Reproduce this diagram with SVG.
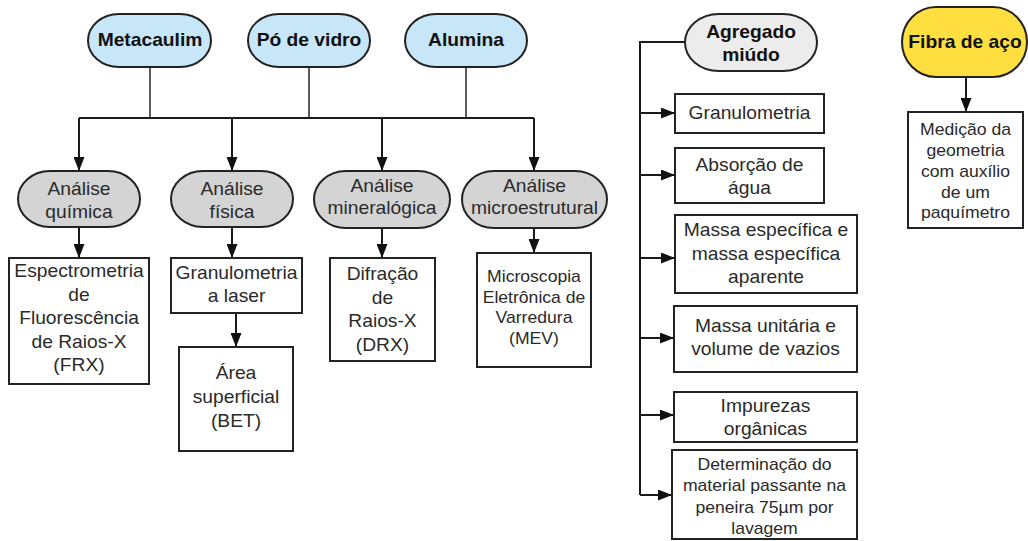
<svg xmlns="http://www.w3.org/2000/svg" width="1028" height="541" viewBox="0 0 1028 541">
  <defs>
    <marker id="arrow" markerUnits="userSpaceOnUse" markerWidth="14" markerHeight="11" refX="14" refY="5.5" orient="auto">
      <path d="M0,0 L14,5.5 L0,11 z" fill="#111"/>
    </marker>
    <style>
      .bg { fill: #ffffff; }
      .pill { stroke: #222; stroke-width: 2; }
      .blue { fill: #c7e6f7; }
      .grey { fill: #d4d4d4; }
      .light { fill: #ececec; }
      .yellow { fill: #ffdf3f; }
      .box { fill: #ffffff; stroke: #222; stroke-width: 2; }
      .wire { fill: none; stroke: #1a1a1a; stroke-width: 2; }
      .feed { fill: none; stroke: #333; stroke-width: 1.6; }
      .arr { fill: none; stroke: #1a1a1a; stroke-width: 2; marker-end: url(#arrow); }
      text { font-family: "Liberation Sans", Arial, sans-serif; text-anchor: middle; }
      .t { font-size: 17.5px; fill: #2a2a2a; }
      .s { font-size: 16px; fill: #2a2a2a; }
      .b { font-size: 17.5px; font-weight: bold; fill: #111; }
    </style>
  </defs>

  <rect class="bg" x="0" y="0" width="1028" height="541"/>

  <!-- connectors -->
  <g id="connectors">
    <path class="feed" d="M150,67 V118 M309,67 V118 M466,67 V118"/>
    <path class="wire" d="M79,118 H534"/>
    <path class="arr" d="M79,118 V171"/>
    <path class="arr" d="M232,118 V171"/>
    <path class="arr" d="M382,118 V171"/>
    <path class="arr" d="M534,118 V171"/>

    <path class="arr" d="M79,227 V258"/>
    <path class="arr" d="M232,227 V258"/>
    <path class="arr" d="M382,228 V258"/>
    <path class="arr" d="M534,228 V253"/>
    <path class="arr" d="M236,313 V347"/>

    <path class="wire" d="M685,42 H640 V495"/>
    <path class="arr" d="M640,113 H675"/>
    <path class="arr" d="M640,175 H675"/>
    <path class="arr" d="M640,258 H675"/>
    <path class="arr" d="M640,338 H674"/>
    <path class="arr" d="M640,415 H674"/>
    <path class="arr" d="M640,495 H672"/>

    <path class="arr" d="M966,77 V112"/>
  </g>

  <!-- materials -->
  <g id="metacaulim">
    <rect class="pill blue" x="88" y="14" width="123" height="53" rx="31" ry="26.5"/>
    <g transform="translate(150,0) scale(1.1,1)"><text class="b" x="0" y="46">Metacaulim</text></g>
  </g>
  <g id="po-de-vidro">
    <rect class="pill blue" x="248" y="14" width="122" height="53" rx="31" ry="26.5"/>
    <g transform="translate(309,0) scale(1.1,1)"><text class="b" x="0" y="46">Pó de vidro</text></g>
  </g>
  <g id="alumina">
    <rect class="pill blue" x="405" y="14" width="122" height="53" rx="31" ry="26.5"/>
    <g transform="translate(466,0) scale(1.1,1)"><text class="b" x="0" y="46">Alumina</text></g>
  </g>

  <!-- analyses -->
  <g id="analise-quimica">
    <rect class="pill grey" x="18" y="171" width="122" height="56" rx="32" ry="28"/>
    <g transform="translate(79,0) scale(1.1,1)">
      <text class="t" x="0" y="195.5">Análise</text>
      <text class="t" x="0" y="218.5">química</text>
    </g>
  </g>
  <g id="analise-fisica">
    <rect class="pill grey" x="171" y="171" width="122" height="56" rx="32" ry="28"/>
    <g transform="translate(232,0) scale(1.1,1)">
      <text class="t" x="0" y="195.5">Análise</text>
      <text class="t" x="0" y="218.5">física</text>
    </g>
  </g>
  <g id="analise-mineralogica">
    <rect class="pill grey" x="314" y="171" width="136" height="57" rx="32" ry="28.5"/>
    <g transform="translate(382,0) scale(1.1,1)">
      <text class="t" x="0" y="192.5">Análise</text>
      <text class="t" x="0" y="214.5">mineralógica</text>
    </g>
  </g>
  <g id="analise-microestrutural">
    <rect class="pill grey" x="462" y="171" width="145" height="57" rx="32" ry="28.5"/>
    <g transform="translate(534.5,0) scale(1.1,1)">
      <text class="t" x="0" y="192.5">Análise</text>
      <text class="t" x="0" y="214.5">microestrutural</text>
    </g>
  </g>

  <!-- methods -->
  <g id="frx">
    <rect class="box" x="9" y="258" width="140" height="126"/>
    <g transform="translate(79,0) scale(1.1,1)">
      <text class="t" x="0" y="277.5">Espectrometria</text>
      <text class="t" x="0" y="301">de</text>
      <text class="t" x="0" y="324.5">Fluorescência</text>
      <text class="t" x="0" y="348">de Raios-X</text>
      <text class="t" x="0" y="371.5">(FRX)</text>
    </g>
  </g>
  <g id="granulometria-laser">
    <rect class="box" x="171" y="258" width="131" height="55"/>
    <g transform="translate(236.5,0) scale(1.1,1)">
      <text class="t" x="0" y="279">Granulometria</text>
      <text class="t" x="0" y="302.5">a laser</text>
    </g>
  </g>
  <g id="bet">
    <rect class="box" x="179" y="347" width="114" height="104"/>
    <g transform="translate(236,0) scale(1.1,1)">
      <text class="t" x="0" y="379.5">Área</text>
      <text class="t" x="0" y="403.5">superficial</text>
      <text class="t" x="0" y="427.5">(BET)</text>
    </g>
  </g>
  <g id="drx">
    <rect class="box" x="330" y="258" width="105" height="103"/>
    <g transform="translate(382.5,0) scale(1.1,1)">
      <text class="t" x="0" y="280.5">Difração</text>
      <text class="t" x="0" y="304">de</text>
      <text class="t" x="0" y="327.5">Raios-X</text>
      <text class="t" x="0" y="351">(DRX)</text>
    </g>
  </g>
  <g id="mev">
    <rect class="box" x="477" y="253" width="114" height="114"/>
    <g transform="translate(534,0) scale(1.1,1)">
      <text class="s" x="0" y="282.5">Microscopia</text>
      <text class="s" x="0" y="303">Eletrônica de</text>
      <text class="s" x="0" y="323.5">Varredura</text>
      <text class="s" x="0" y="344">(MEV)</text>
    </g>
  </g>

  <!-- fine aggregate -->
  <g id="agregado-miudo">
    <rect class="pill light" x="685" y="14" width="132" height="57" rx="34" ry="28.5"/>
    <g transform="translate(751,0) scale(1.1,1)">
      <text class="b" x="0" y="38">Agregado</text>
      <text class="b" x="0" y="61">miúdo</text>
    </g>
  </g>
  <g id="granulometria">
    <rect class="box" x="675" y="94" width="149" height="39"/>
    <g transform="translate(749.5,0) scale(1.1,1)"><text class="t" x="0" y="119.5">Granulometria</text></g>
  </g>
  <g id="absorcao">
    <rect class="box" x="675" y="148" width="149" height="55"/>
    <g transform="translate(749.5,0) scale(1.1,1)">
      <text class="t" x="0" y="171">Absorção de</text>
      <text class="t" x="0" y="194">água</text>
    </g>
  </g>
  <g id="massa-especifica">
    <rect class="box" x="675" y="215" width="182" height="78"/>
    <g transform="translate(766,0) scale(1.1,1)">
      <text class="t" x="0" y="236.5">Massa específica e</text>
      <text class="t" x="0" y="260.5">massa específica</text>
      <text class="t" x="0" y="283.5">aparente</text>
    </g>
  </g>
  <g id="massa-unitaria">
    <rect class="box" x="674" y="306" width="183" height="66"/>
    <g transform="translate(765.5,0) scale(1.1,1)">
      <text class="t" x="0" y="332.5">Massa unitária e</text>
      <text class="t" x="0" y="355.5">volume de vazios</text>
    </g>
  </g>
  <g id="impurezas">
    <rect class="box" x="674" y="392" width="183" height="50"/>
    <g transform="translate(765.5,0) scale(1.1,1)">
      <text class="t" x="0" y="412.5">Impurezas</text>
      <text class="t" x="0" y="435.5">orgânicas</text>
    </g>
  </g>
  <g id="material-passante">
    <rect class="box" x="672" y="450" width="185" height="89"/>
    <g transform="translate(764.5,0) scale(1.1,1)">
      <text class="s" x="0" y="470.5">Determinação do</text>
      <text class="s" x="0" y="491.5">material passante na</text>
      <text class="s" x="0" y="513">peneira 75µm por</text>
      <text class="s" x="0" y="534">lavagem</text>
    </g>
  </g>

  <!-- steel fibre -->
  <g id="fibra-de-aco">
    <rect class="pill yellow" x="902" y="7" width="125" height="70" rx="34" ry="35"/>
    <g transform="translate(965,0) scale(1.1,1)"><text class="b" x="0" y="48">Fibra de aço</text></g>
  </g>
  <g id="medicao">
    <rect class="box" x="908" y="112" width="115" height="116"/>
    <g transform="translate(965.5,0) scale(1.1,1)">
      <text class="s" x="0" y="135.5">Medição da</text>
      <text class="s" x="0" y="156.5">geometria</text>
      <text class="s" x="0" y="177.5">com auxílio</text>
      <text class="s" x="0" y="198.5">de um</text>
      <text class="s" x="0" y="218.5">paquímetro</text>
    </g>
  </g>
</svg>
